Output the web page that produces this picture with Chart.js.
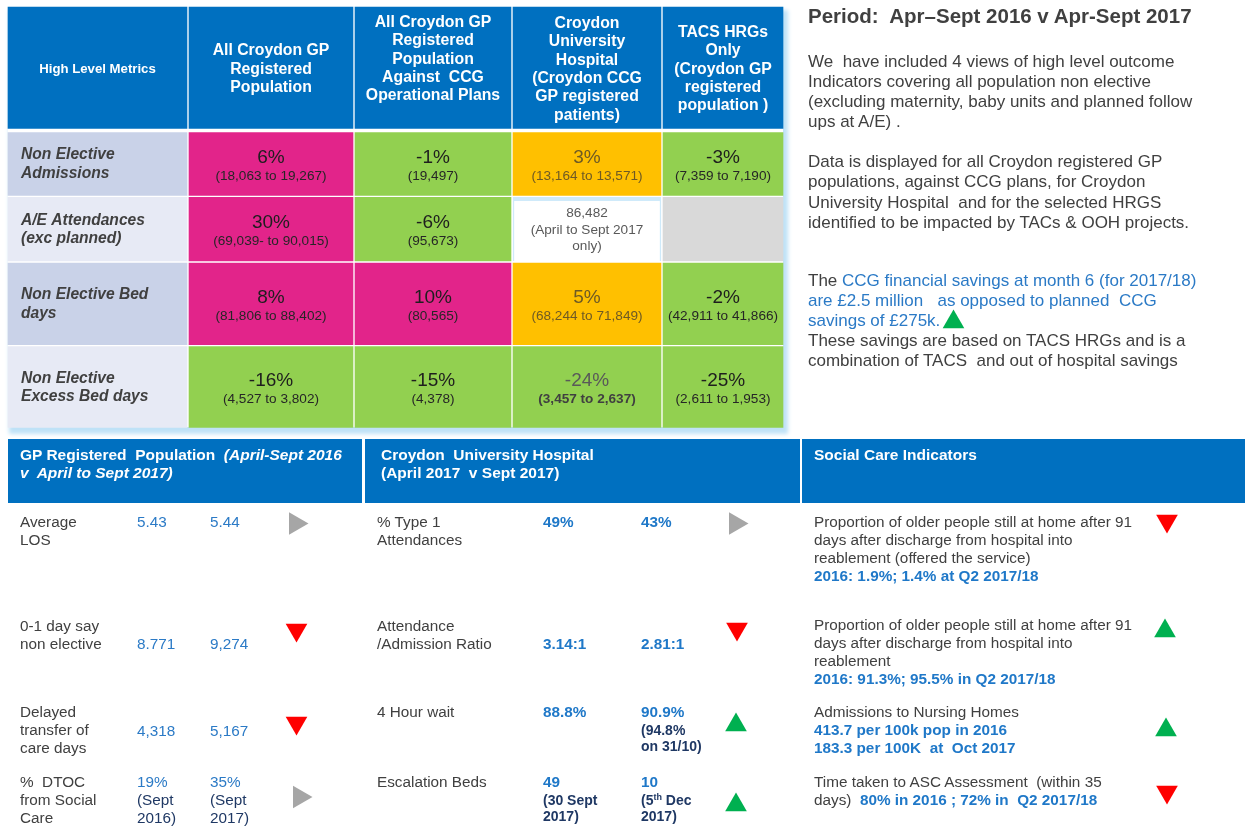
<!DOCTYPE html>
<html><head><meta charset="utf-8">
<script src="https://cdn.jsdelivr.net/npm/chart.js@4.4.0/dist/chart.umd.min.js"></script>
<style>
html,body{margin:0;padding:0;background:#fff;}
body{width:1245px;height:827px;position:relative;overflow:hidden;font-family:"Liberation Sans",Arial,sans-serif;color:#404040;}
#glow{position:absolute;left:8px;top:7px;width:775px;height:420px;background:#fff;box-shadow:3px 5px 4px 2px #bfe2f7;z-index:0}
#c{position:absolute;left:0;top:0;z-index:1}
.t{position:absolute;white-space:pre;z-index:3}
.hdr{position:absolute;background:#0070C0;top:439px;height:64px;z-index:2}
.bl{color:#2B7AC6}
.bb{color:#1F78C8;font-weight:bold}
.nv{color:#1F3864}
.nb{color:#1F3864;font-weight:bold}
.w{color:#fff;font-weight:bold}
</style></head>
<body>
<div id="glow"></div>
<canvas id="c" width="1245" height="827"></canvas>
<div class="hdr" style="left:8px;width:354px"></div>
<div class="hdr" style="left:365px;width:435px"></div>
<div class="hdr" style="left:802px;width:443px"></div>
<script>
// ---------------- DATA ----------------
const cornerLabel = 'High Level Metrics';
const columnLabels = [
  'All Croydon GP\nRegistered\nPopulation',
  'All Croydon GP\nRegistered\nPopulation\nAgainst  CCG\nOperational Plans',
  'Croydon\nUniversity\nHospital\n(Croydon CCG\nGP registered\npatients)',
  'TACS HRGs\nOnly\n(Croydon GP\nregistered\npopulation )'
];
const metricLabels = ['Non Elective\nAdmissions', 'A/E Attendances\n(exc planned)', 'Non Elective Bed\ndays', 'Non Elective\nExcess Bed days'];
const pctAdmissions = [6, -1, 3, -3];
const pctAE = [30, -6, null, null];
const pctBedDays = [8, 10, 5, -2];
const pctExcessBedDays = [-16, -15, -24, -25];
const detailAdmissions = ['(18,063 to 19,267)', '(19,497)', '(13,164 to 13,571)', '(7,359 to 7,190)'];
const detailAE = ['(69,039- to 90,015)', '(95,673)', '86,482\n(April to Sept 2017\nonly)', ''];
const detailBedDays = ['(81,806 to 88,402)', '(80,565)', '(68,244 to 71,849)', '(42,911 to 41,866)'];
const detailExcessBedDays = ['(4,527 to 3,802)', '(4,378)', '(3,457 to 2,637)', '(2,611 to 1,953)'];
const ragAdmissions = ['red', 'green', 'amber', 'green'];
const ragAE = ['red', 'green', 'none', 'na'];
const ragBedDays = ['red', 'red', 'amber', 'green'];
const ragExcessBedDays = ['green', 'green', 'green', 'green'];

const periodTitle = 'Period:  Apr–Sept 2016 v Apr-Sept 2017';
const savingsActual = '£2.5 million';
const savingsPlanned = '£275k';
const savingsTrend = 'up';

const gpLabels = ['Average\nLOS', '0-1 day say\nnon elective', 'Delayed\ntransfer of\ncare days', '%  DTOC\nfrom Social\nCare'];
const gp2016 = ['5.43', '8.771', '4,318', '19%'];
const gp2017 = ['5.44', '9,274', '5,167', '35%'];
const gpNote2016 = ['', '', '', '(Sept\n2016)'];
const gpNote2017 = ['', '', '', '(Sept\n2017)'];
const gpTrend = ['flat', 'down', 'down', 'flat'];

const cuhLabels = ['% Type 1\nAttendances', 'Attendance\n/Admission Ratio', '4 Hour wait', 'Escalation Beds'];
const cuhApr = ['49%', '3.14:1', '88.8%', '49'];
const cuhSep = ['43%', '2.81:1', '90.9%', '10'];
const cuhNoteApr = ['', '', '', '(30 Sept\n2017)'];
const cuhNoteSep = ['', '', '(94.8%\non 31/10)', '(5<sup>th</sup> Dec\n2017)'];
const cuhTrend = ['flat', 'down', 'up', 'up'];

const socialLabels = [
  'Proportion of older people still at home after 91\ndays after discharge from hospital into\nreablement (offered the service)',
  'Proportion of older people still at home after 91\ndays after discharge from hospital into\nreablement',
  'Admissions to Nursing Homes',
  'Time taken to ASC Assessment  (within 35\ndays)  '
];
const socialValues = ['2016: 1.9%; 1.4% at Q2 2017/18', '2016: 91.3%; 95.5% in Q2 2017/18', '413.7 per 100k pop in 2016\n183.3 per 100K  at  Oct 2017', '80% in 2016 ; 72% in  Q2 2017/18'];
const socialInline = [false, false, false, true];
const socialTrend = ['down', 'up', 'up', 'down'];

// ---------------- LAYOUT & STYLE ----------------
const colEdges = [[8, 187], [189, 353], [355, 511], [513, 661], [663, 783]];
const rowEdges = [[7, 128.5], [132.5, 195.3], [197.3, 261], [263, 344.7], [346.7, 427.3]];
const headerShift = [0, 0, -10, 0, 0];
const ragColors = {red: '#E2248A', green: '#92D050', amber: '#FFC000', none: '#FFFFFF', na: '#D9D9D9'};
const HEADER_BLUE = '#0070C0';
const labelBg = ['#C9D2E8', '#E7EAF5', '#C9D2E8', '#E7EAF5'];
const trendColor = {up: '#00B050', down: '#FF0000', flat: '#A6A6A6'};
const trendRot = {up: 0, down: 180, flat: 90};
const trendRadius = {up: 12.5, down: 12.5, flat: 13};
const gpTrendPos = [[295.5, 523.5], [296.5, 630], [296.5, 723], [299.5, 797]];
const cuhTrendPos = [[735.5, 523.5], [737, 629], [736, 725], [736, 805]];
const socialTrendPos = [[1167, 521], [1165, 631], [1166, 730], [1167, 792]];
const savingsTrendPos = [953.5, 322];
const FONT = '"Liberation Sans", Arial, sans-serif';

const pctRows = [pctAdmissions, pctAE, pctBedDays, pctExcessBedDays];
const detailRows = [detailAdmissions, detailAE, detailBedDays, detailExcessBedDays];
const ragRows = [ragAdmissions, ragAE, ragBedDays, ragExcessBedDays];

function cellStatus(r, c) { return (r > 0 && c > 0) ? ragRows[r - 1][c - 1] : null; }
function cellColor(r, c) {
  if (r === 0) return HEADER_BLUE;
  if (c === 0) return labelBg[r - 1];
  return ragColors[cellStatus(r, c)];
}

const barDatasets = rowEdges.map((re, r) => ({
  type: 'bar',
  indexAxis: 'y',
  xAxisID: 'x',
  yAxisID: 'y',
  data: colEdges.map(ce => ({x: [ce[0], ce[1]], y: (re[0] + re[1]) / 2})),
  barThickness: re[1] - re[0],
  backgroundColor: colEdges.map((ce, c) => cellColor(r, c)),
  borderColor: '#CFEAFA',
  borderSkipped: false,
  borderWidth: colEdges.map((ce, c) => cellStatus(r, c) === 'none' ? {top: 4, left: 1.5, right: 1.5, bottom: 0} : 0)
}));

// trend triangles
const trendPts = [], trendCols = [], trendRots = [], trendRads = [];
function addTrend(pos, t) {
  trendPts.push({x: pos[0], y: pos[1]});
  trendCols.push(trendColor[t]); trendRots.push(trendRot[t]); trendRads.push(trendRadius[t]);
}
gpTrend.forEach((t, i) => addTrend(gpTrendPos[i], t));
cuhTrend.forEach((t, i) => addTrend(cuhTrendPos[i], t));
socialTrend.forEach((t, i) => addTrend(socialTrendPos[i], t));
addTrend(savingsTrendPos, savingsTrend);

const cellText = {
  id: 'cellText',
  afterDatasetsDraw(chart) {
    const ctx = chart.ctx;
    ctx.save();
    chart.data.datasets.forEach((ds, r) => {
      if (ds.type !== 'bar') return;
      chart.getDatasetMeta(r).data.forEach((el, c) => {
        const p = el.getProps(['x', 'y', 'base', 'height'], true);
        const left = Math.min(p.x, p.base), right = Math.max(p.x, p.base);
        const cx = (left + right) / 2, cy = p.y;
        ctx.textBaseline = 'alphabetic';
        if (r === 0) {
          ctx.fillStyle = '#FFFFFF';
          ctx.textAlign = 'center';
          if (c === 0) {
            ctx.font = 'bold 13.2px ' + FONT;
            ctx.fillText(cornerLabel, cx, cy + 5);
          } else {
            const lines = columnLabels[c - 1].split('\n');
            ctx.font = 'bold 15.8px ' + FONT;
            const first = cy + 6 - (lines.length - 1) / 2 * 18.3 + headerShift[c];
            lines.forEach((l, i) => ctx.fillText(l, cx, first + i * 18.3));
          }
          return;
        }
        if (c === 0) {
          ctx.fillStyle = '#404040';
          ctx.textAlign = 'left';
          ctx.font = 'italic bold 15.6px ' + FONT;
          metricLabels[r - 1].split('\n').forEach((l, i) => ctx.fillText(l, left + 13, cy - 4.5 + i * 18.5));
          return;
        }
        const pct = pctRows[r - 1][c - 1];
        const det = detailRows[r - 1][c - 1];
        const rag = ragRows[r - 1][c - 1];
        ctx.textAlign = 'center';
        if (pct === null) {
          if (!det) return;
          ctx.fillStyle = '#595959';
          ctx.font = '13.6px ' + FONT;
          det.split('\n').forEach((l, i) => ctx.fillText(l, cx, cy - 12 + i * 16.5));
          return;
        }
        let mainCol = '#1E1E1E', subCol = '#262626', subBold = false;
        if (rag === 'amber') { mainCol = '#6E5A24'; subCol = '#6E5A24'; }
        if (r === 4 && c === 3) { mainCol = '#595959'; subCol = '#404040'; subBold = true; }
        ctx.fillStyle = mainCol;
        ctx.font = '19px ' + FONT;
        ctx.fillText(pct + '%', cx, cy - 1);
        ctx.fillStyle = subCol;
        ctx.font = (subBold ? 'bold ' : '') + '13.6px ' + FONT;
        ctx.fillText(det, cx, cy + 16);
      });
    });
    ctx.restore();
  }
};

new Chart(document.getElementById('c'), {
  type: 'bar',
  data: {
    datasets: barDatasets.concat([{
      type: 'scatter',
      xAxisID: 'x',
      yAxisID: 'y2',
      data: trendPts,
      pointStyle: 'triangle',
      pointRadius: trendRads,
      pointHoverRadius: trendRads,
      pointRotation: trendRots,
      pointBackgroundColor: trendCols,
      pointBorderWidth: 0,
      pointBorderColor: trendCols
    }])
  },
  options: {
    responsive: false,
    animation: false,
    devicePixelRatio: 1,
    events: [],
    layout: {padding: 0, autoPadding: false},
    plugins: {legend: {display: false}, tooltip: {enabled: false}},
    scales: {
      x: {type: 'linear', min: 0, max: 1245, display: false, offset: false, stacked: false, bounds: 'data'},
      y: {type: 'linear', min: 0, max: 827, reverse: true, display: false, offset: false, stacked: true, bounds: 'data'},
      y2: {type: 'linear', min: 0, max: 827, reverse: true, display: false, offset: false, bounds: 'data'}
    }
  },
  plugins: [cellText]
});

// ---------------- HTML TEXT ----------------
function put(x, base, html, size, lh, extra) {
  const d = document.createElement('div');
  d.className = 't';
  d.style.left = x + 'px';
  d.style.fontSize = size + 'px';
  d.style.lineHeight = lh + 'px';
  d.style.top = (base - ((lh - 1.117 * size) / 2 + 0.905 * size)) + 'px';
  d.innerHTML = html;
  if (extra) Object.assign(d.style, extra);
  document.body.appendChild(d);
}
const amp = s => s.replace(/&/g, '&amp;');

// right panel
put(808, 23, '<b>' + periodTitle + '</b>', 20.5, 24);
put(808, 68, 'We  have included 4 views of high level outcome\nIndicators covering all population non elective\n(excluding maternity, baby units and planned follow\nups at A/E) .', 17, 20);
put(808, 168, amp('Data is displayed for all Croydon registered GP\npopulations, against CCG plans, for Croydon\nUniversity Hospital  and for the selected HRGS\nidentified to be impacted by TACs & OOH projects.'), 17, 20.3);
put(808, 287, 'The <span class="bl">CCG financial savings at month 6 (for 2017/18)\nare ' + savingsActual + '   as opposed to planned  CCG\nsavings of ' + savingsPlanned + '.</span>\nThese savings are based on TACS HRGs and is a\ncombination of TACS  and out of hospital savings', 17, 20);

// bottom headers
put(20, 460, '<span class="w">GP Registered  Population  <i>(April-Sept 2016\nv  April to Sept 2017)</i></span>', 15.5, 18);
put(381, 460, '<span class="w">Croydon  University Hospital\n(April 2017  v Sept 2017)</span>', 15.5, 18);
put(814, 460, '<span class="w">Social Care Indicators</span>', 15.5, 18);

const FS = 15.3, LH = 18.3;
// GP registered population
const gpLabelBase = [527, 631, 717, 787];
const gpValueBase = [527, 649, 736, 787];
gpLabels.forEach((t, i) => {
  put(20, gpLabelBase[i], t, FS, LH);
  put(137, gpValueBase[i], '<span class="bl">' + gp2016[i] + '</span>' + (gpNote2016[i] ? '\n<span class="nv">' + gpNote2016[i] + '</span>' : ''), FS, LH);
  put(210, gpValueBase[i], '<span class="bl">' + gp2017[i] + '</span>' + (gpNote2017[i] ? '\n<span class="nv">' + gpNote2017[i] + '</span>' : ''), FS, LH);
});
// CUH
const cuhLabelBase = [527, 631, 717, 787];
const cuhValueBase = [527, 649, 717, 787];
cuhLabels.forEach((t, i) => {
  put(377, cuhLabelBase[i], t, FS, LH);
  put(543, cuhValueBase[i], '<span class="bb">' + cuhApr[i] + '</span>', FS, LH);
  put(641, cuhValueBase[i], '<span class="bb">' + cuhSep[i] + '</span>', FS, LH);
  if (cuhNoteApr[i]) put(543, cuhValueBase[i] + 18, '<span class="nb">' + cuhNoteApr[i] + '</span>', 14, 16);
  if (cuhNoteSep[i]) put(641, cuhValueBase[i] + 18, '<span class="nb">' + cuhNoteSep[i].replace('<sup>', '<sup style="font-size:9px;vertical-align:5px;line-height:0">') + '</span>', 14, 16);
});
// Social care
const socialBase = [527, 630, 717, 787];
socialLabels.forEach((t, i) => {
  const v = '<span class="bb">' + socialValues[i] + '</span>';
  put(814, socialBase[i], t + (socialInline[i] ? '' : '\n') + v, FS, LH);
});
</script>
</body></html>
